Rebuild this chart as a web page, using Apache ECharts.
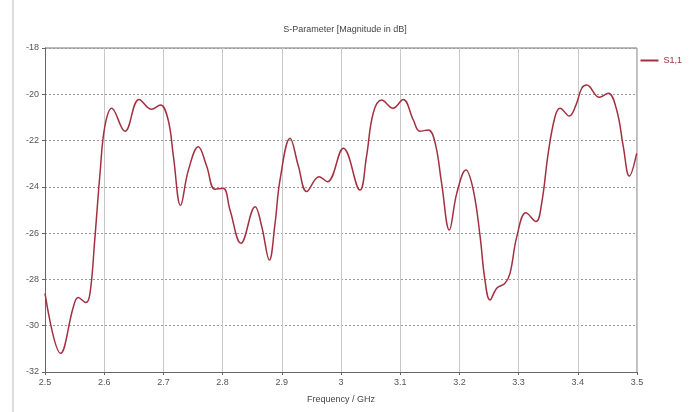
<!DOCTYPE html>
<html><head><meta charset="utf-8">
<script src="https://cdn.jsdelivr.net/npm/echarts@6/dist/echarts.min.js"></script>
<style>html,body{margin:0;padding:0;background:#fff}#c{width:697px;height:412px}</style>
</head><body><div id="c"></div>
<script>
const freqs = [2.5,2.5265,2.548,2.556,2.569,2.576,2.584,2.593,2.601,2.6127,2.635,2.659,2.68,2.695,2.708,2.717,2.729,2.742,2.759,2.773,2.787,2.801,2.8125,2.831,2.855,2.866,2.879,2.8885,2.897,2.914,2.928,2.942,2.963,2.977,3.004,3.032,3.043,3.0546,3.0688,3.088,3.105,3.122,3.133,3.1475,3.159,3.17,3.183,3.1955,3.211,3.2235,3.235,3.243,3.2517,3.263,3.277,3.2855,3.297,3.3125,3.3294,3.339,3.35,3.3615,3.37,3.3856,3.397,3.4066,3.415,3.4363,3.4515,3.4657,3.4769,3.487,3.4995];
const s11 = [-28.6,-31.19,-29.18,-28.78,-29.0,-28.6,-26.3,-23.4,-21.4,-20.6,-21.6,-20.22,-20.65,-20.46,-21.1,-22.7,-24.8,-23.3,-22.27,-23.1,-24.1,-24.06,-25.0,-26.44,-24.86,-25.7,-27.16,-25.6,-23.7,-21.9,-23.1,-24.2,-23.56,-23.78,-22.33,-24.14,-22.7,-20.8,-20.25,-20.6,-20.22,-21.1,-21.6,-21.54,-22.1,-23.85,-25.86,-24.28,-23.27,-24.14,-26.15,-28.0,-28.89,-28.38,-28.17,-27.74,-26.15,-25.12,-25.5,-24.7,-22.55,-20.97,-20.6,-20.94,-20.46,-19.74,-19.6,-20.13,-19.96,-20.68,-22.27,-23.53,-22.55];
const xTicks = ['2.5','2.6','2.7','2.8','2.9','3','3.1','3.2','3.3','3.4','3.5'];
const yTicks = ['-18','-20','-22','-24','-26','-28','-30','-32'];
const seriesName = 'S1,1';
const titleText = 'S-Parameter [Magnitude in dB]';
const xName = 'Frequency / GHz';

const chart = echarts.init(document.getElementById('c'));
const font = 'Liberation Sans';
chart.setOption({
  animation: false,
  backgroundColor: '#fff',
  title: { text: titleText, left: 340, top: 20, textAlign: 'center',
    textStyle: { fontSize: 9, fontWeight: 'normal', color: '#444', fontFamily: font } },
  legend: { right: 10, top: 51, itemWidth: 18, itemHeight: 2, icon: 'rect', itemGap: 4,
    textStyle: { fontSize: 9, color: '#a33040', fontFamily: font },
    data: [{ name: seriesName }] },
  grid: { left: 45, right: 60, top: 48, bottom: 40 },
  xAxis: {
    type: 'value', min: 2.5, max: 3.5, interval: 0.1,
    name: xName, nameLocation: 'middle', nameGap: 23,
    nameTextStyle: { fontSize: 9, color: '#444', fontFamily: font },
    axisLine: { lineStyle: { color: '#666', width: 1 } },
    axisTick: { show: true, length: 3, lineStyle: { color: '#666' } },
    axisLabel: { fontSize: 9, color: '#555', fontFamily: font, margin: 6,
      formatter: v => { const i = Math.round((v - 2.5) * 10); return xTicks[i] || ''; } },
    splitLine: { show: true, lineStyle: { color: '#c8c8c8', width: 1 } }
  },
  yAxis: {
    type: 'value', min: -32, max: -18, interval: 2,
    axisLine: { show: true, lineStyle: { color: '#666', width: 1 } },
    axisTick: { show: true, length: 3, lineStyle: { color: '#666' } },
    axisLabel: { fontSize: 9, color: '#555', fontFamily: font, margin: 6,
      formatter: v => { const i = Math.round((-18 - v) / 2); return yTicks[i] || ''; } },
    splitLine: { show: true, lineStyle: { color: '#999', width: 1, type: [2, 2] } }
  },
  series: [{
    name: seriesName, type: 'line', smooth: 0.4, showSymbol: false,
    lineStyle: { color: '#a33040', width: 1.5 }, itemStyle: { color: '#a33040' },
    data: freqs.map((f, i) => [f, s11[i]])
  }, {
    type: 'line', silent: true, data: [], xAxisIndex: 0
  }],
  graphic: [
    { type: 'line', shape: { x1: 45, y1: 48, x2: 637, y2: 48 }, style: { stroke: '#777', lineWidth: 1 } },
    { type: 'line', shape: { x1: 637, y1: 48, x2: 637, y2: 372 }, style: { stroke: '#777', lineWidth: 1 } },
    { type: 'line', shape: { x1: 13, y1: 0, x2: 13, y2: 412 }, style: { stroke: '#bbb', lineWidth: 1 } }
  ]
});
</script></body></html>
